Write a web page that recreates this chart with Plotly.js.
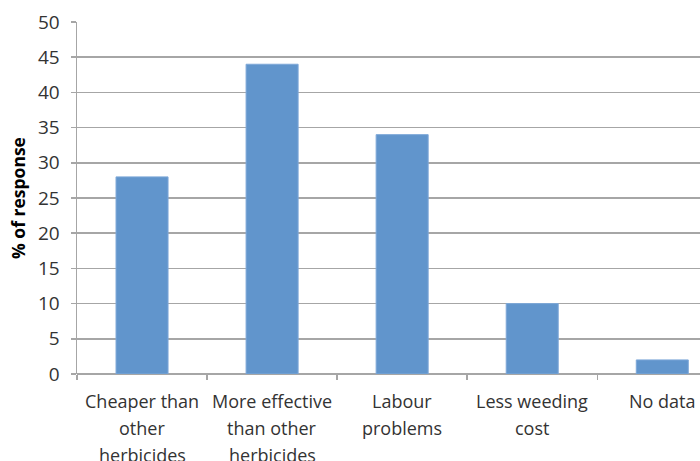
<!DOCTYPE html>
<html>
<head>
<meta charset="utf-8">
<script src="https://cdn.plot.ly/plotly-3.0.1.min.js"></script>
<style>html,body{margin:0;padding:0;background:#fff;}#chart{width:700px;height:461px;}</style>
</head>
<body>
<div id="chart"></div>
<script>
const categories = ["Cheaper than other herbicides", "More effective than other herbicides", "Labour problems", "Less weeding cost", "No data"];
const labelLines = [["Cheaper than", "other", "herbicides"], ["More effective", "than other", "herbicides"], ["Labour", "problems"], ["Less weeding", "cost"], ["No data"]];
const responsePct = [28, 44, 34, 10, 2];
const yTicks = [0, 5, 10, 15, 20, 25, 30, 35, 40, 45, 50];

const gridCol = "#a6a6a6";
const textCol = "#333333";
const font = "Open Sans, Noto Sans, sans-serif";

const annotations = [];
labelLines.forEach((lines, i) => {
  lines.forEach((ln, j) => {
    annotations.push({
      x: categories[i], y: 0, xref: "x", yref: "y",
      text: ln, showarrow: false, xanchor: "center", yanchor: "middle",
      yshift: -(27 + j * 27),
      font: {family: font, size: 18, color: textCol}
    });
  });
});

const trace = {
  type: "bar",
  x: categories,
  y: responsePct,
  width: 0.4,
  marker: {color: "#6195cc", line: {color: "#7ea8d8", width: 1}},
  hoverinfo: "skip"
};

const layout = {
  width: 700, height: 461,
  margin: {l: 77, r: 0, t: 22, b: 87, pad: 0},
  paper_bgcolor: "#ffffff", plot_bgcolor: "#ffffff",
  showlegend: false,
  bargap: 0.6,
  xaxis: {
    type: "category",
    range: [-0.5, 4.29],
    showticklabels: false,
    tickson: "boundaries",
    ticks: "outside", ticklen: 5, tickcolor: gridCol, tickwidth: 1.5,
    showline: false, showgrid: false, zeroline: false,
    fixedrange: true
  },
  yaxis: {
    range: [0, 50],
    tickvals: yTicks,
    ticktext: yTicks.map(String),
    ticks: "outside", ticklen: 5, tickcolor: gridCol, tickwidth: 1.5,
    ticklabelstandoff: 7,
    showline: true, linecolor: gridCol, linewidth: 1.5,
    showgrid: true, gridcolor: gridCol, gridwidth: 1.5,
    zeroline: true, zerolinecolor: gridCol, zerolinewidth: 1.5,
    tickfont: {family: font, size: 19, color: textCol},
    title: {text: "<b>% of response</b>", font: {family: font, size: 17.5, color: "#000"}, standoff: 8},
    fixedrange: true
  },
  annotations: annotations
};

Plotly.newPlot("chart", [trace], layout, {displayModeBar: false, staticPlot: true});
</script>
</body>
</html>
